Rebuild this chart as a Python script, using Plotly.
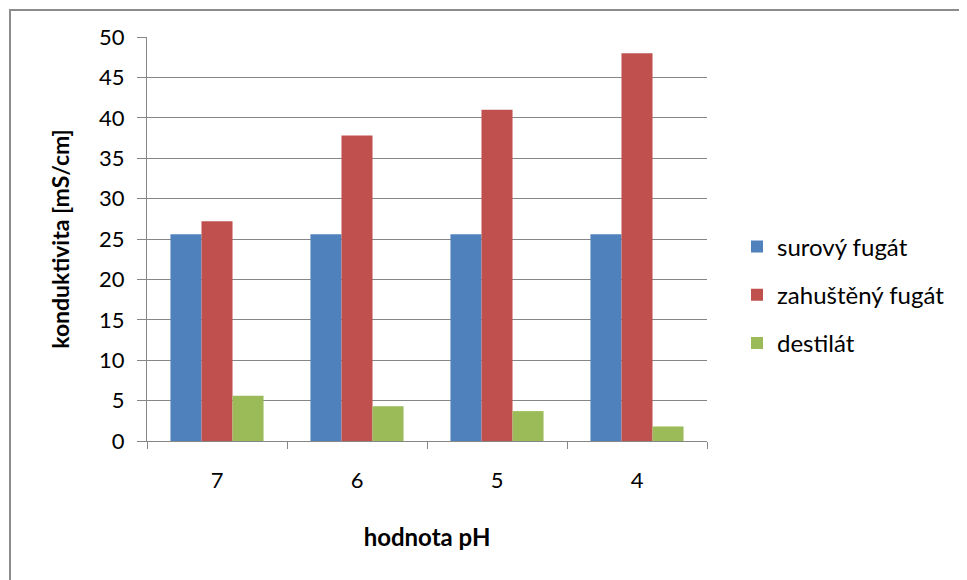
import plotly.graph_objects as go

categories = ["7", "6", "5", "4"]
surovy = [25.6, 25.6, 25.6, 25.6]
zahusteny = [27.2, 37.8, 41.0, 48.0]
destilat = [5.6, 4.3, 3.7, 1.8]
series_names = ["surový fugát", "zahuštěný fugát", "destilát"]
colors = ["#4F81BD", "#C0504D", "#9BBB59"]
y_ticks = [0, 5, 10, 15, 20, 25, 30, 35, 40, 45, 50]

FONT = "Lato, Carlito, Calibri, sans-serif"

fig = go.Figure()
for i, (name, vals) in enumerate(zip(series_names, [surovy, zahusteny, destilat])):
    fig.add_trace(go.Bar(
        x=categories, y=vals, name=name,
        marker=dict(color=colors[i], line=dict(width=0)),
        legendgroup=f"g{i}",
    ))

OFF = 8  # page body margin
L, R, T, B = 147 - OFF, 707 - OFF, 37 - OFF, 441 - OFF
W, H = 967, 580
pw, ph = R - L, B - T

def px(x):
    return (x - OFF - L) / pw

def py(y):
    return (B - (y - OFF)) / ph

fig.add_shape(type="rect", xref="paper", yref="paper",
              x0=px(10), x1=px(960), y0=py(600), y1=py(10),
              line=dict(color="#8C8C8C", width=2), fillcolor="rgba(0,0,0,0)",
              layer="below")

fig.update_layout(
    width=W, height=H,
    margin=dict(l=L, r=W - R, t=T, b=H - B, pad=0),
    paper_bgcolor="white", plot_bgcolor="white",
    font=dict(family=FONT, size=22, color="#000000"),
    barmode="group", bargap=0.335, bargroupgap=0,
    showlegend=True,
    legend=dict(x=px(737), y=py(295), xanchor="left", yanchor="middle",
                traceorder="grouped", tracegroupgap=14,
                font=dict(family=FONT, size=24, color="#000000"),
                bgcolor="rgba(0,0,0,0)"),
    xaxis=dict(
        type="category", tickson="boundaries", ticks="outside", ticklen=7,
        tickcolor="#868686", showline=True, linecolor="#868686", linewidth=1,
        showgrid=False, ticklabelstandoff=20,
        title=dict(text="<b>hodnota pH</b>", standoff=36,
                   font=dict(family=FONT, size=24)),
        tickfont=dict(family=FONT, size=22),
    ),
    yaxis=dict(
        range=[0, 50], tickvals=y_ticks, ticks="outside", ticklen=9,
        tickcolor="#868686", showline=True, linecolor="#868686", linewidth=1,
        showgrid=True, gridcolor="#868686", gridwidth=1, zeroline=False,
        ticklabelstandoff=8,
        title=dict(text="<b>konduktivita [mS/cm]</b>", standoff=23,
                   font=dict(family=FONT, size=23)),
        tickfont=dict(family=FONT, size=22),
    ),
)

fig.write_html("out.html")
